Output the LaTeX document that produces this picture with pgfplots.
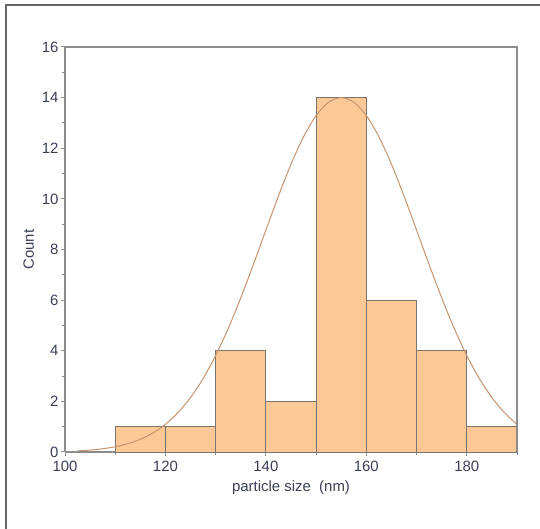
\documentclass[border=0pt]{standalone}
\usepackage{pgfplots}
\pgfplotsset{compat=1.18}
\usepackage{fontspec}
\setmainfont{Liberation Sans}
\definecolor{barfill}{HTML}{FCC996}
\definecolor{baredge}{HTML}{7A7470}
\definecolor{curve}{HTML}{C4946E}
\definecolor{axisgray}{HTML}{8C8C8C}
\definecolor{ticktext}{HTML}{3A3F55}
\begin{document}
\begin{tikzpicture}[x=1bp,y=1bp]
\useasboundingbox (0,0) rectangle (540,529);
\draw[line width=1.6bp, color=black!60] (6,0) -- (6,524) -- (540,524);
\begin{axis}[
  at={(65bp,77bp)}, anchor=south west,
  scale only axis, width=452bp, height=405bp,
  xmin=100, xmax=190, ymin=0, ymax=16,
  xtick={100,120,...,180}, ytick={0,2,...,16},
  minor xtick={110,130,150,170,190},
  minor ytick={1,3,...,15},
  tick align=outside,
  major tick length=4bp, minor tick length=3bp,
  tick style={color=axisgray, line width=1bp},
  axis line style={color=axisgray, line width=1.4bp},
  axis x line*=bottom, axis y line*=left,
  every outer x axis line/.append style={-},
  every outer y axis line/.append style={-},
  ticklabel style={font=\fontsize{15}{16}\selectfont, color=ticktext},
  yticklabel style={xshift=1bp},
  xticklabel style={yshift=-2bp},
  /pgf/number format/assume math mode=true,
  xlabel={particle size\ \ (nm)}, ylabel={Count},
  label style={font=\fontsize{15}{16}\selectfont, color=ticktext},
  xlabel style={yshift=-2bp},
  ylabel style={yshift=1bp},
  clip=false,
]
\addplot[ybar interval, fill=barfill, draw=baredge, line width=0.8bp] coordinates {
(110,1) (120,1) (130,4) (140,2) (150,14) (160,6) (170,4) (180,1) (190,1)
};
\addplot[color=curve, line width=1bp, smooth] coordinates {
(102.5,0.045) (105,0.077) (107.5,0.128) (110,0.207) (112.5,0.326) (115,0.501) (117.5,0.750)
(120,1.094) (122.5,1.554) (125,2.152) (127.5,2.901) (130,3.812) (132.5,4.882)
(135,6.090) (137.5,7.402) (140,8.766) (142.5,10.114) (145,11.369) (147.5,12.453)
(150,13.290) (152.5,13.819) (155,14.0) (157.5,13.819) (160,13.290) (162.5,12.453)
(165,11.369) (167.5,10.114) (170,8.766) (172.5,7.402) (175,6.090) (177.5,4.882)
(180,3.812) (182.5,2.901) (185,2.152) (187.5,1.554) (190,1.094)
};
\draw[color=axisgray, line width=1.4bp] (axis cs:100,16) -- (axis cs:190,16) -- (axis cs:190,0);
\end{axis}
\end{tikzpicture}
\end{document}
